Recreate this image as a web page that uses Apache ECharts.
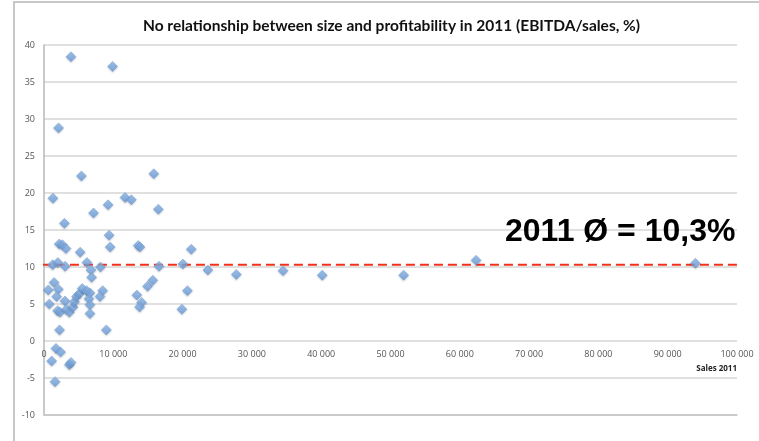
<!DOCTYPE html>
<html>
<head>
<meta charset="utf-8">
<script src="https://cdn.jsdelivr.net/npm/echarts@6/dist/echarts.min.js"></script>
<style>
  html, body { margin: 0; padding: 0; background: #ffffff; }
  #chart { width: 759px; height: 441px; }
</style>
</head>
<body>
<div id="chart"></div>
<script>
// Company sales in 2011 (x) and EBITDA margin in % (y)
const sales2011 = [
  3900, 9900, 2100, 5400, 15850, 1300, 11700, 12600, 9250, 7150,
  16500, 2950, 9400, 2200, 2650, 3170, 5220, 9550, 13600, 13850,
  21250, 1250, 2000, 3050, 6200, 6780, 6880, 8150, 16600, 20050,
  23650, 27750, 34500, 40150, 51900, 62350, 94000, 620, 770, 1450,
  2070, 1830, 1970, 2310, 3030, 3270, 3660, 4200, 4400, 4710,
  5100, 5530, 6160, 6640, 6490, 6640, 6640, 8470, 8080, 13400,
  14100, 13800, 14950, 15700, 19900, 20700, 2250, 9000, 1730, 2400,
  1110, 3650, 3900, 1600
];
const ebitdaMargin = [
  38.4, 37.1, 28.8, 22.3, 22.6, 19.3, 19.4, 19.1, 18.4, 17.3,
  17.8, 15.9, 14.3, 13.1, 13.0, 12.5, 12.0, 12.7, 12.9, 12.7,
  12.4, 10.3, 10.6, 10.1, 10.6, 9.6, 8.6, 10.0, 10.1, 10.4,
  9.6, 9.0, 9.5, 8.9, 8.9, 10.9, 10.5, 6.9, 5.0, 7.9,
  7.0, 6.0, 4.1, 3.9, 5.4, 4.3, 3.9, 4.6, 5.3, 6.0,
  6.4, 7.1, 6.8, 6.5, 5.7, 4.9, 3.7, 6.8, 6.0, 6.2,
  5.2, 4.6, 7.4, 8.2, 4.3, 6.8, 1.5, 1.5, -1.0, -1.5,
  -2.7, -3.2, -2.9, -5.5
];

// Average margin and the sales range the reference line spans
const averageMargin = 10.3;
const averageLineSales = [-300, 101900];
const averageLabel = '2011 \u00d8 = 10,3%';

const chartTitle = 'No relationship between size and profitability in 2011 (EBITDA/sales, %)';
const xAxisTitle = 'Sales 2011';

const points = sales2011.map((s, i) => [s, ebitdaMargin[i]]);
const avgLine = averageLineSales.map(s => [s, averageMargin]);

const chart = echarts.init(document.getElementById('chart'));

const gridColor = '#d6d6d6';
const labelFont = { fontFamily: 'Open Sans', fontSize: 9, color: '#555555' };

// Sales labels sit just under the zero line: shift them up from the grid bottom
const gridTop = 45, gridBottom = 26, chartHeight = 441;
const yMin = -10, yMax = 40;
const plotHeight = chartHeight - gridTop - gridBottom;
const zeroOffset = plotHeight * (0 - yMin) / (yMax - yMin);

chart.setOption({
  animation: false,
  backgroundColor: '#ffffff',
  title: {
    text: chartTitle,
    left: 138,
    top: 13,
    textStyle: { fontFamily: 'Lato', fontWeight: 'bold', fontSize: 15.5, color: '#111111' }
  },
  grid: { left: 44, right: 22, top: gridTop, bottom: gridBottom },
  xAxis: {
    type: 'value',
    min: 0,
    max: 100000,
    interval: 10000,
    axisLine: { show: true, onZero: false, lineStyle: { color: '#c4c4c4', width: 1.5 } },
    axisTick: { show: false },
    splitLine: { show: false },
    axisLabel: Object.assign({
      margin: 9 - zeroOffset,
      formatter: v => v === 0 ? '0' : (v / 1000) + ' 000'
    }, labelFont)
  },
  yAxis: {
    type: 'value',
    min: yMin,
    max: yMax,
    interval: 5,
    axisLine: { show: true, onZero: false, lineStyle: { color: '#b8b8b8', width: 1.5 } },
    axisTick: { show: false },
    splitLine: { show: true, lineStyle: { color: gridColor, width: 1.5 } },
    axisLabel: Object.assign({ margin: 9 }, labelFont)
  },
  series: [
    {
      type: 'line',
      data: avgLine,
      clip: false,
      symbol: 'none',
      z: 3,
      lineStyle: { color: '#f4301a', width: 2, type: [9, 5] }
    },
    {
      type: 'scatter',
      data: points,
      symbol: 'diamond',
      symbolSize: [10, 10],
      z: 4,
      itemStyle: {
        color: new echarts.graphic.LinearGradient(0, 0, 0, 1, [
          { offset: 0, color: '#93bcec' },
          { offset: 1, color: '#6397d8' }
        ]),
        borderColor: '#6a9ad8',
        borderWidth: 0.6,
        shadowColor: 'rgba(0,0,0,0.22)',
        shadowBlur: 2,
        shadowOffsetY: 1
      }
    }
  ],
  graphic: [
    {
      type: 'rect',
      z: -10,
      shape: { x: 14, y: 2, width: 800, height: 500 },
      style: { fill: 'none', stroke: '#c8c8c8', lineWidth: 2 }
    },
    {
      type: 'text',
      left: 505,
      top: 216,
      z: 100,
      style: {
        text: averageLabel,
        font: 'bold 32px "Liberation Sans", Arial, sans-serif',
        fill: '#000000'
      }
    },
    {
      type: 'text',
      right: 22,
      top: 365,
      z: 100,
      style: {
        text: xAxisTitle,
        font: 'bold 8px "Open Sans", sans-serif',
        fill: '#222222'
      }
    }
  ]
});
</script>
</body>
</html>
